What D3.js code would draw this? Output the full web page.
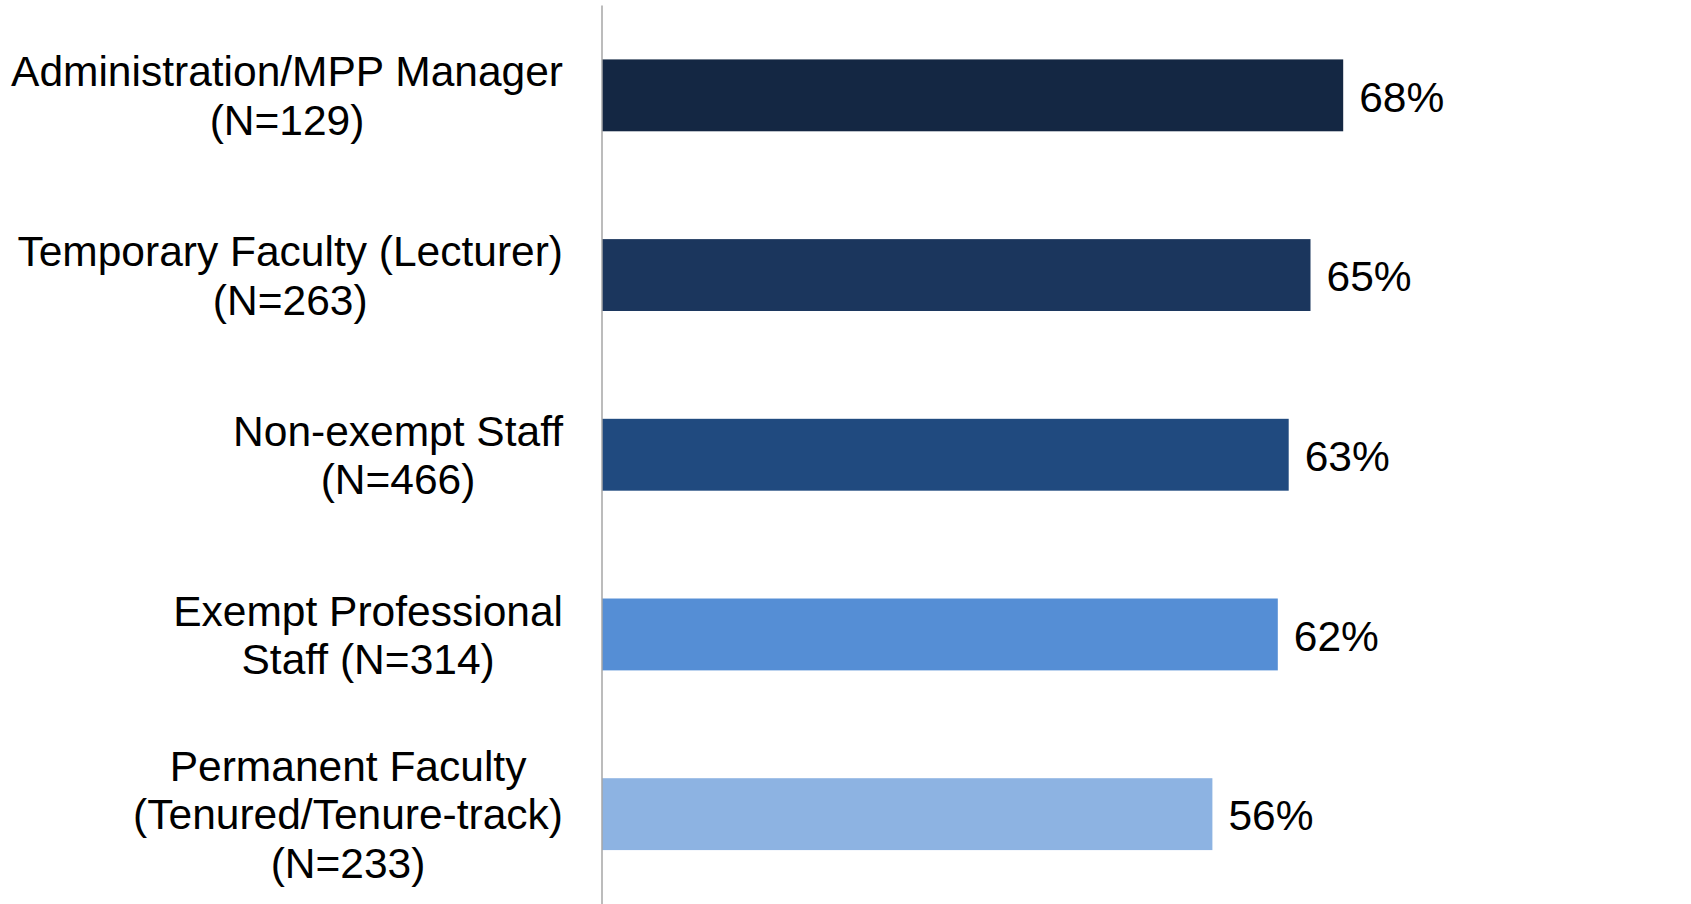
<!DOCTYPE html>
<html>
<head>
<meta charset="utf-8">
<script src="https://cdn.jsdelivr.net/npm/d3@7"></script>
<style>
  body { margin: 0; background: #fff; }
  text { font-family: "Liberation Sans", Arial, sans-serif; fill: #000; }
</style>
</head>
<body>
<div id="chart"></div>
<script>
// categories (one line per array entry), values and bar colours
let labels = [
  ["Administration/MPP Manager", "(N=129)"],
  ["Temporary Faculty (Lecturer)", "(N=263)"],
  ["Non-exempt Staff", "(N=466)"],
  ["Exempt Professional", "Staff (N=314)"],
  ["Permanent Faculty", "(Tenured/Tenure-track)", "(N=233)"]
];
let values = [0.68, 0.65, 0.63, 0.62, 0.56];
let colors = ["#142743", "#1b365d", "#204a7f", "#558ed5", "#8db3e2"];

var width = 1691,
    height = 904,
    axisX = 602,
    fontSize = 42.5,
    lineH = 48.5;

var svg = d3.select("#chart")
  .append("svg")
    .attr("width", width)
    .attr("height", height);

var x = d3.scaleLinear()
  .domain([0, 1])
  .range([axisX, axisX + 1090]);

var y = d3.scaleBand()
  .domain(d3.range(values.length))
  .range([5.5, height])
  .paddingInner(0.6)
  .paddingOuter(0.3);

// bars
svg.selectAll("rect.bar")
  .data(values)
  .enter()
  .append("rect")
    .attr("class", "bar")
    .attr("x", x(0))
    .attr("y", (d, i) => y(i))
    .attr("width", d => x(d) - x(0))
    .attr("height", y.bandwidth())
    .attr("fill", (d, i) => colors[i]);

// value labels
svg.selectAll("text.val")
  .data(values)
  .enter()
  .append("text")
    .attr("class", "val")
    .attr("x", d => x(d) + 16)
    .attr("y", (d, i) => y(i) + y.bandwidth() / 2)
    .attr("dy", "0.38em")
    .style("font-size", fontSize + "px")
    .text(d => Math.round(d * 100) + "%");

// category labels: block centred on widest line, right edge near axis
var labelRight = 563;
labels.forEach(function(lines, i) {
  var g = svg.append("g");
  var cy = y(i) + y.bandwidth() / 2;
  var top = cy - (lines.length - 1) * lineH / 2;
  var texts = g.selectAll("text")
    .data(lines)
    .enter()
    .append("text")
      .attr("text-anchor", "middle")
      .attr("y", (d, j) => top + j * lineH)
      .attr("dy", "0.36em")
      .style("font-size", fontSize + "px")
      .text(d => d);
  var maxW = d3.max(texts.nodes(), n => n.getComputedTextLength());
  texts.attr("x", labelRight - maxW / 2);
});

// vertical axis line
svg.append("line")
  .attr("x1", axisX)
  .attr("x2", axisX)
  .attr("y1", 5.5)
  .attr("y2", height)
  .attr("stroke", "#a6a6a6")
  .attr("stroke-width", 1.5);
</script>
</body>
</html>
